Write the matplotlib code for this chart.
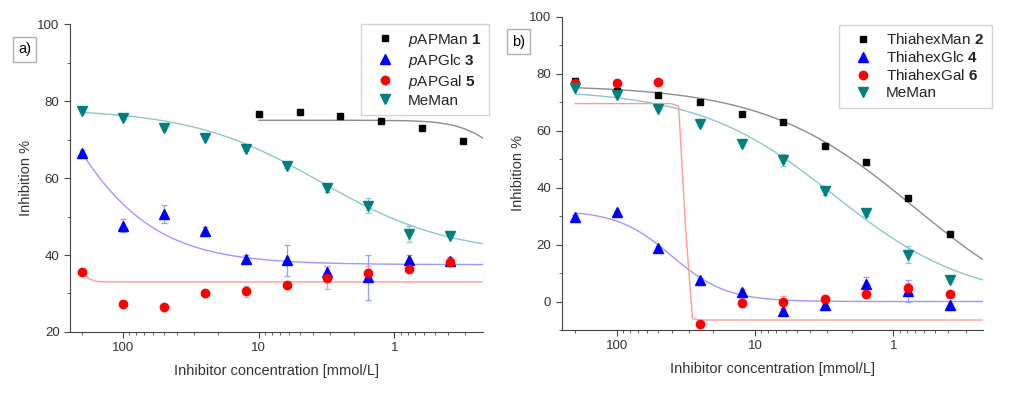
import numpy as np
import matplotlib.pyplot as plt

plt.rcParams['font.family'] = ['Liberation Sans', 'DejaVu Sans']
plt.rcParams['mathtext.fontset'] = 'custom'
plt.rcParams['mathtext.rm'] = 'Liberation Sans'
plt.rcParams['mathtext.it'] = 'Liberation Sans:italic'
plt.rcParams['mathtext.bf'] = 'Liberation Sans:bold'

# concentrations [mmol/L]
conc = [200, 100, 50, 25, 12.5, 6.25, 3.125, 1.5625, 0.78125, 0.390625]
conc_man1 = [10, 5, 2.5, 1.25, 0.625, 0.3125]

# panel a)
a_man1 = [76.7, 77.2, 76.0, 74.9, 73.0, 69.7]
a_man1_err = [0.4, 0.4, 0.4, 0.4, 0.4, 0.5]
a_glc3 = [66.6, 47.6, 50.7, 46.2, 39.0, 38.6, 35.6, 34.2, 38.7, 38.4]
a_glc3_err = [0.6, 1.7, 2.4, 1.2, 1.0, 4.1, 1.5, 5.8, 1.2, 1.0]
a_gal5 = [35.5, 27.3, 26.5, 30.0, 30.6, 32.3, 34.1, 35.2, 36.4, 38.1]
a_gal5_err = [0.4, 0.4, 0.4, 0.4, 1.4, 0.5, 3.0, 2.0, 0.8, 0.6]
a_meman = [77.4, 75.7, 73.0, 70.5, 67.5, 63.0, 57.3, 52.8, 45.5, 45.0]
a_meman_err = [0.6, 0.4, 0.5, 0.4, 0.5, 0.5, 1.0, 2.0, 2.1, 0.4]

# panel b)
b_man2 = [77.5, 74.0, 72.4, 70.2, 66.0, 62.9, 54.6, 48.9, 36.3, 23.7]
b_man2_err = [0.5, 0.5, 0.5, 0.5, 0.5, 0.5, 0.6, 0.6, 0.6, 0.8]
b_glc4 = [29.8, 31.3, 18.7, 7.4, 3.5, -3.3, -1.2, 6.2, 3.7, -1.4]
b_glc4_err = [0.6, 0.6, 0.8, 0.8, 0.8, 1.0, 0.8, 2.5, 4.0, 1.5]
b_gal6 = [76.6, 76.6, 77.2, -8.0, -0.4, -0.2, 0.8, 2.6, 4.6, 2.6]
b_gal6_err = [0.5, 0.5, 0.5, 0.5, 1.5, 2.0, 1.0, 0.5, 2.0, 0.5]
b_meman = [75.1, 72.5, 67.7, 62.3, 55.3, 49.7, 38.9, 31.0, 16.4, 7.6]
b_meman_err = [0.5, 0.5, 0.6, 0.6, 0.6, 2.0, 1.5, 0.8, 3.0, 0.8]

# fitted dose-response parameters: (bottom, top, ic50, hill, start conc)
fit_a = {'man1': (60, 75, 0.17, 3, 10), 'glc3': (37.5, 145, 500, 1.1, 200),
         'gal5': (33, 38, 200, 15, 200), 'meman': (40, 78, 3.5, 0.9, 200)}
fit_b = {'man2': (-10, 76, 0.7, 0.8, 200), 'glc4': (0, 32, 40, 2.2, 200),
         'gal6': (-6.5, 69.5, 32, 40, 200), 'meman': (0, 74.5, 2.67, 0.88, 200)}


def dose_resp(c, p):
    bot, top, ic50, h = p[:4]
    return bot + (top - bot) / (1 + (ic50 / c) ** h)


fig = plt.figure(figsize=(10.24, 3.95), dpi=100)
axa = fig.add_axes([0.0684, 0.1595, 0.4033, 0.7797])
axb = fig.add_axes([0.5485, 0.1646, 0.411, 0.793])

cols = {'k': ('black', '#8c8c8c'), 'b': ('#0000ff', '#9a9aff'),
        'r': ('#ff0000', '#ff9a9a'), 't': ('#008080', '#8cc8c8')}


def series(ax, x, y, err, fitp, xend, col, marker, ms, label):
    mc, lc = cols[col]
    xf = np.logspace(np.log10(fitp[4]), np.log10(xend), 60)
    ax.plot(xf, dose_resp(xf, fitp), color=lc, lw=1, zorder=1)
    ax.errorbar(x, y, yerr=err, fmt='none', ecolor=lc, elinewidth=0.9,
                capsize=2.5, capthick=0.9, zorder=2)
    ax.plot(x, y, ls='none', marker=marker, color=mc, ms=ms, label=label,
            zorder=3)


xr = 0.222
series(axa, conc_man1, a_man1, a_man1_err, fit_a['man1'], xr, 'k', 's', 5,
       r'$\it{p}$APMan $\bf{1}$')
series(axa, conc, a_glc3, a_glc3_err, fit_a['glc3'], xr, 'b', '^', 6.5,
       r'$\it{p}$APGlc $\bf{3}$')
series(axa, conc, a_gal5, a_gal5_err, fit_a['gal5'], xr, 'r', 'o', 6,
       r'$\it{p}$APGal $\bf{5}$')
series(axa, conc, a_meman, a_meman_err, fit_a['meman'], xr, 't', 'v', 6.5,
       'MeMan')

xr2 = 0.226
series(axb, conc, b_man2, b_man2_err, fit_b['man2'], xr2, 'k', 's', 5,
       r'ThiahexMan $\bf{2}$')
series(axb, conc, b_glc4, b_glc4_err, fit_b['glc4'], xr2, 'b', '^', 6.5,
       r'ThiahexGlc $\bf{4}$')
series(axb, conc, b_gal6, b_gal6_err, fit_b['gal6'], xr2, 'r', 'o', 6,
       r'ThiahexGal $\bf{6}$')
series(axb, conc, b_meman, b_meman_err, fit_b['meman'], xr2, 't', 'v', 6.5,
       'MeMan')

for ax, ylim, xl in ((axa, (20, 100), (247, xr)), (axb, (-10, 100), (250, xr2))):
    ax.set_xscale('log')
    ax.set_xlim(*xl)
    ax.set_ylim(*ylim)
    ax.set_xticks([100, 10, 1])
    ax.set_xticklabels(['100', '10', '1'])
    ax.set_yticks(np.arange(0 if ylim[0] < 0 else 20, 101, 20))
    ax.set_yticks(np.arange(ylim[0], 101, 10), minor=True)
    for s in ('top', 'right'):
        ax.spines[s].set_visible(False)
    for s in ('left', 'bottom'):
        ax.spines[s].set_color('#444444')
    ax.tick_params(which='major', length=4, color='#444444', labelsize=9.5,
                   labelcolor='#333333')
    ax.tick_params(which='minor', length=2.5, color='#444444')
    ax.set_xlabel('Inhibitor concentration [mmol/L]', fontsize=10.5,
                  color='#333333', labelpad=7)
    ax.set_ylabel('Inhibition %', fontsize=10.5, color='#333333', labelpad=3)

lkw = dict(loc='upper right', fancybox=False, edgecolor='#c8c8c8',
           fontsize=11, handletextpad=0.4, handlelength=2.2, borderpad=0.5,
           labelspacing=0.2, borderaxespad=0)
lega = axa.legend(bbox_to_anchor=(1.0145, 1.0), **lkw)
legb = axb.legend(bbox_to_anchor=(1.022, 0.975), **lkw)
for lg in (lega, legb):
    lg.get_frame().set_linewidth(1.0)
    for t in lg.get_texts():
        t.set_color('#222222')

bx = dict(boxstyle='square,pad=0.35', fc='white', ec='#b0b0b0', lw=1)
fig.text(0.0239, 0.8747, 'a)', fontsize=10.5, ha='center', va='center', bbox=bx)
fig.text(0.5063, 0.8949, 'b)', fontsize=10.5, ha='center', va='center', bbox=bx)

fig.savefig('out.png', dpi=100)
